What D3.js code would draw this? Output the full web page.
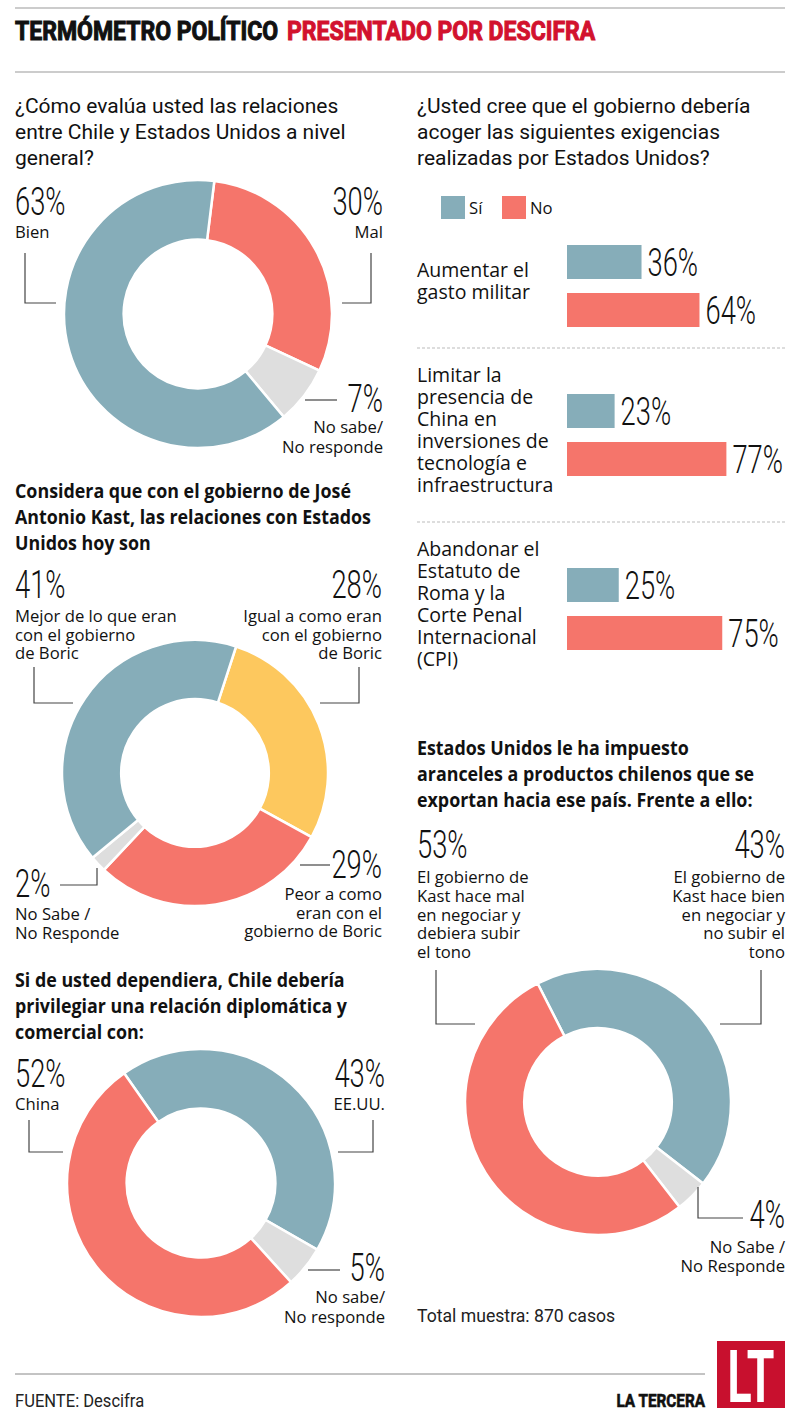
<!DOCTYPE html>
<html>
<head>
<meta charset="utf-8">
<script src="https://cdn.jsdelivr.net/npm/d3@7"></script>
<style>
  body { margin: 0; background: #fff; }
  svg { display: block; }
</style>
</head>
<body>
<div id="chart"></div>
<script>
// data
var relLabels = [['Mal'], ['No sabe/', 'No responde'], ['Bien']];
var relValues = [30, 7, 63];
var relKeys = ['no', 'ns', 'si'];

var kastLabels = [
  ['Igual a como eran', 'con el gobierno', 'de Boric'],
  ['Peor a como', 'eran con el', 'gobierno de Boric'],
  ['No Sabe /', 'No Responde'],
  ['Mejor de lo que eran', 'con el gobierno', 'de Boric']
];
var kastValues = [28, 29, 2, 41];
var kastKeys = ['mid', 'no', 'ns', 'si'];

var prefLabels = [['EE.UU.'], ['No sabe/', 'No responde'], ['China']];
var prefValues = [43, 5, 52];
var prefKeys = ['si', 'ns', 'no'];

var tariffLabels = [
  ['El gobierno de', 'Kast hace bien', 'en negociar y', 'no subir el', 'tono'],
  ['No Sabe /', 'No Responde'],
  ['El gobierno de', 'Kast hace mal', 'en negociar y', 'debiera subir', 'el tono']
];
var tariffValues = [43, 4, 53];
var tariffKeys = ['si', 'ns', 'no'];

var demandLabels = [
  ['Aumentar el', 'gasto militar'],
  ['Limitar la', 'presencia de', 'China en', 'inversiones de', 'tecnología e', 'infraestructura'],
  ['Abandonar el', 'Estatuto de', 'Roma y la', 'Corte Penal', 'Internacional', '(CPI)']
];
var demandYes = [36, 23, 25];
var demandNo = [64, 77, 75];
var legendLabels = ['Sí', 'No'];

var colors = { si: '#86adb9', no: '#f5756b', ns: '#dedede', mid: '#fdc85e' };

var COND = "Roboto, 'Liberation Sans', sans-serif";
var SANS = "'Open Sans', 'Noto Sans', sans-serif";
var HEAVY = "Roboto, 'Liberation Sans', sans-serif";

var svg = d3.select('#chart').append('svg')
  .attr('width', 800)
  .attr('height', 1427);

function txt(g, x, y, s, o) {
  var t = g.append('text')
    .attr('transform', 'translate(' + x + ',' + y + ') scale(' + (o.sx || 1) + ',1)')
    .attr('text-anchor', o.anchor || 'start')
    .style('font-family', o.family || SANS)
    .style('font-size', o.size + 'px')
    .style('font-weight', o.weight || 400)
    .attr('fill', o.fill || '#111')
    .text(s);
  if (o.stroke) t.attr('stroke', o.fill || '#111').attr('stroke-width', o.stroke);
  return t;
}

function block(g, x, y, arr, lh, o) {
  arr.forEach(function (s, i) { txt(g, x, y + i * lh, s, o); });
}

function right(o) { return Object.assign({ anchor: 'end' }, o); }

var pctStyle = { family: COND, size: 38, weight: 300, sx: 0.72 };
var labStyle = { family: SANS, size: 17, sx: 0.98 };
var qReg = { family: COND, size: 21, sx: 1.0 };
var qBold = { family: SANS, size: 19, weight: 700, sx: 0.94 };

function leader(pts) {
  svg.append('path')
    .attr('d', d3.line()(pts))
    .attr('fill', 'none')
    .attr('stroke', '#444')
    .attr('stroke-width', 1.2);
}

// header
svg.append('line').attr('x1', 15).attr('x2', 785).attr('y1', 8).attr('y2', 8)
  .attr('stroke', '#999');
svg.append('line').attr('x1', 15).attr('x2', 785).attr('y1', 72).attr('y2', 72)
  .attr('stroke', '#999');
txt(svg, 15, 40, 'TERMÓMETRO POLÍTICO', { family: HEAVY, size: 25, weight: 700, sx: 0.92, stroke: 1, fill: '#111' });
txt(svg, 287, 40, 'PRESENTADO POR DESCIFRA', { family: HEAVY, size: 25, weight: 700, sx: 0.92, stroke: 1, fill: '#d2122e' });

// donuts
function donut(cx, cy, R, values, keys, start) {
  var pie = d3.pie().sort(null).value(function (d) { return d; })
    .startAngle(start).endAngle(start + 2 * Math.PI);
  var arc = d3.arc().innerRadius(R * 0.555).outerRadius(R);
  var g = svg.append('g').attr('transform', 'translate(' + cx + ',' + cy + ')');
  g.selectAll('path').data(pie(values)).enter().append('path')
    .attr('d', arc)
    .attr('fill', function (d, i) { return colors[keys[i]]; })
    .attr('stroke', '#fff')
    .attr('stroke-width', 2.5);
}

function deg(a) { return a * Math.PI / 180; }

// 1
block(svg, 15, 113, ['¿Cómo evalúa usted las relaciones', 'entre Chile y Estados Unidos a nivel', 'general?'], 26, qReg);
donut(198, 314, 134, relValues, relKeys, deg(7));
txt(svg, 383, 215, relValues[0] + '%', right(pctStyle));
block(svg, 383, 238, relLabels[0], 20, right(labStyle));
leader([[371, 253], [371, 303], [342, 303]]);
txt(svg, 383, 412, relValues[1] + '%', right(pctStyle));
block(svg, 383, 433, relLabels[1], 20, right(labStyle));
leader([[305, 400], [337, 400]]);
txt(svg, 15, 215, relValues[2] + '%', pctStyle);
block(svg, 15, 238, relLabels[2], 20, labStyle);
leader([[25, 253], [25, 303], [56, 303]]);

// 2
block(svg, 15, 498, ['Considera que con el gobierno de José', 'Antonio Kast, las relaciones con Estados', 'Unidos hoy son'], 26, qBold);
donut(195, 773, 133, kastValues, kastKeys, deg(18));
txt(svg, 382, 598, kastValues[0] + '%', right(pctStyle));
block(svg, 382, 622, kastLabels[0], 18.5, right(labStyle));
leader([[359, 667], [359, 703], [320, 703]]);
txt(svg, 382, 878, kastValues[1] + '%', right(pctStyle));
block(svg, 382, 900, kastLabels[1], 18.5, right(labStyle));
leader([[300, 865], [330, 865]]);
txt(svg, 15, 897, kastValues[2] + '%', pctStyle);
block(svg, 15, 920, kastLabels[2], 18.5, labStyle);
leader([[60, 885], [97, 885], [97, 868]]);
txt(svg, 15, 598, kastValues[3] + '%', pctStyle);
block(svg, 15, 622, kastLabels[3], 18.5, labStyle);
leader([[34, 667], [34, 703], [73, 703]]);

// 3
block(svg, 15, 987, ['Si de usted dependiera, Chile debería', 'privilegiar una relación diplomática y', 'comercial con:'], 26, qBold);
donut(201, 1183, 134, prefValues, prefKeys, deg(-35));
txt(svg, 385, 1087, prefValues[0] + '%', right(pctStyle));
block(svg, 385, 1110, prefLabels[0], 19, right(labStyle));
leader([[373, 1120], [373, 1152], [338, 1152]]);
txt(svg, 385, 1281, prefValues[1] + '%', right(pctStyle));
block(svg, 385, 1303, prefLabels[1], 19.5, right(labStyle));
leader([[308, 1270], [340, 1270]]);
txt(svg, 15, 1087, prefValues[2] + '%', pctStyle);
block(svg, 15, 1110, prefLabels[2], 19, labStyle);
leader([[29, 1120], [29, 1152], [63, 1152]]);

// 4
block(svg, 417, 755, ['Estados Unidos le ha impuesto', 'aranceles a productos chilenos que se', 'exportan hacia ese país. Frente a ello:'], 26, qBold);
donut(598, 1102, 133, tariffValues, tariffKeys, deg(-27));
txt(svg, 785, 858, tariffValues[0] + '%', right(pctStyle));
block(svg, 785, 883, tariffLabels[0], 18.8, right(labStyle));
leader([[761, 970], [761, 1024], [720, 1024]]);
txt(svg, 785, 1228, tariffValues[1] + '%', right(pctStyle));
block(svg, 785, 1253, tariffLabels[1], 19, right(labStyle));
leader([[698, 1187], [698, 1218], [743, 1218]]);
txt(svg, 417, 858, tariffValues[2] + '%', pctStyle);
block(svg, 417, 883, tariffLabels[2], 18.8, labStyle);
leader([[436, 970], [436, 1024], [475, 1024]]);
txt(svg, 417, 1322, 'Total muestra: 870 casos', { family: COND, size: 18, sx: 0.98, fill: '#222' });

// bars
block(svg, 417, 113, ['¿Usted cree que el gobierno debería', 'acoger las siguientes exigencias', 'realizadas por Estados Unidos?'], 26, qReg);

var legend = svg.append('g');
legendLabels.forEach(function (l, i) {
  legend.append('rect').attr('x', 441 + i * 61).attr('y', 196).attr('width', 24).attr('height', 23)
    .attr('fill', i === 0 ? colors.si : colors.no);
  txt(legend, 469 + i * 61, 214, l, { family: SANS, size: 17, sx: 0.98 });
});

var x = d3.scaleLinear().domain([0, 100]).range([0, 207]);
var barH = 34, barGap = 14, lineH = 22, pad = 21;
var sectionTop = 224;
var bars = svg.append('g').attr('transform', 'translate(567,0)');
demandLabels.forEach(function (lab, i) {
  var h = Math.max(barH * 2 + barGap, lab.length * lineH) + pad * 2;
  var mid = sectionTop + h / 2;
  var y0 = mid - (barH * 2 + barGap) / 2;
  block(svg, 417, mid - (lab.length * lineH) / 2 + 13, lab, lineH, { family: SANS, size: 19.5, sx: 1.0 });
  [demandYes[i], demandNo[i]].forEach(function (v, j) {
    var y = y0 + j * (barH + barGap);
    bars.append('rect').attr('x', 0).attr('y', y).attr('width', x(v)).attr('height', barH)
      .attr('fill', j === 0 ? colors.si : colors.no);
    txt(bars, x(v) + 6, y + barH - 3, v + '%', pctStyle);
  });
  sectionTop += h;
  if (i < demandLabels.length - 1) {
    svg.append('line').attr('x1', 417).attr('x2', 785).attr('y1', sectionTop).attr('y2', sectionTop)
      .attr('stroke', '#bbb').attr('stroke-dasharray', '3,2');
  }
});

// footer
svg.append('line').attr('x1', 15).attr('x2', 705).attr('y1', 1374).attr('y2', 1374)
  .attr('stroke', '#888');
txt(svg, 15, 1407, 'FUENTE: Descifra', { family: COND, size: 18, sx: 0.92, fill: '#222' });
txt(svg, 705, 1407, 'LA TERCERA', { family: HEAVY, size: 18, weight: 700, sx: 0.85, stroke: 0.6, anchor: 'end', fill: '#111' });
svg.append('rect').attr('x', 717).attr('y', 1341).attr('width', 68).attr('height', 67).attr('fill', '#c8102e');
txt(svg, 751, 1402, 'LT', { family: COND, size: 72, weight: 700, sx: 0.62, anchor: 'middle', fill: '#fff' });
</script>
</body>
</html>
